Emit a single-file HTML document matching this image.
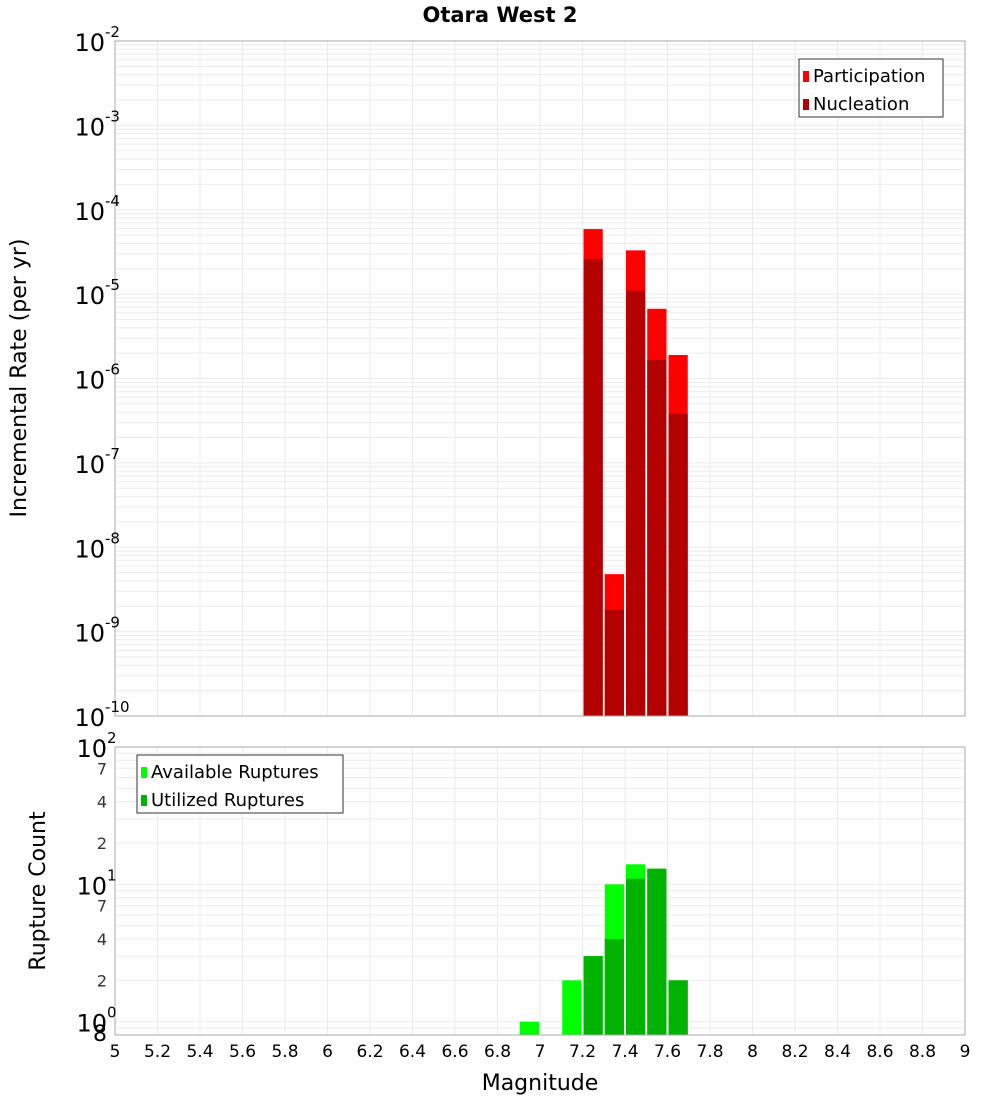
<!DOCTYPE html>
<html><head><meta charset="utf-8"><style>
body{margin:0;background:#fff;font-family:"Liberation Sans","DejaVu Sans",sans-serif}
svg text{font-family:"DejaVu Sans","Liberation Sans",sans-serif}
</style></head><body>
<svg id="c" width="1000" height="1100" xmlns="http://www.w3.org/2000/svg"></svg>
<script>
const mags=[7.25,7.35,7.45,7.55,7.65];
const participation=[5.9e-5,4.8e-9,3.3e-5,6.7e-6,1.9e-6];
const nucleation=[2.6e-5,1.8e-9,1.1e-5,1.66e-6,3.8e-7];
const countMags=[6.95,7.15,7.25,7.35,7.45,7.55,7.65];
const available=[1,2,3,10,14,13,2];
const utilized=[0,0,3,4,11,13,2];
const xTicks=[5,5.2,5.4,5.6,5.8,6,6.2,6.4,6.6,6.8,7,7.2,7.4,7.6,7.8,8,8.2,8.4,8.6,8.8,9];
const topExps=[-2,-3,-4,-5,-6,-7,-8,-9,-10];

const svg=document.getElementById('c');
const NS='http://www.w3.org/2000/svg';
function el(t,a,p){const e=document.createElementNS(NS,t);for(const k in a)e.setAttribute(k,a[k]);(p||svg).appendChild(e);return e;}
const L=115,R=965;
const x=v=>L+(v-5)/4*(R-L);
const T1=41,B1=716;
const y1=v=>T1+(-2-Math.log10(v))/8*(B1-T1);
const T2=747,B2=1035,lmin=Math.log10(0.8),lmax=2;
const y2=v=>T2+(lmax-Math.log10(v))/(lmax-lmin)*(B2-T2);

// title
let t=el('text',{x:500,y:22,'text-anchor':'middle','font-size':21,'font-weight':'bold'});
t.textContent='Otara West 2';



// grids top
const g1=el('g',{});


for(let e=-10;e<-2;e++)for(let m=1;m<10;m++){const yy=y1(m*Math.pow(10,e));el('line',{x1:L,x2:R,y1:yy,y2:yy,stroke:'#ebebeb','stroke-width':1},g1);}
xTicks.forEach(v=>{el('line',{x1:x(v),x2:x(v),y1:T1,y2:B1,stroke:'#ebebeb'},g1);el('line',{x1:x(v),x2:x(v),y1:T2,y2:B2,stroke:'#ebebeb'},g1);});
for(let e=-1;e<2;e++)for(let m=1;m<10;m++){const v=m*Math.pow(10,e);if(v<0.8||v>100)continue;const yy=y2(v);el('line',{x1:L,x2:R,y1:yy,y2:yy,stroke:'#ebebeb'},g1);}

// top bars
mags.forEach((m,i)=>{
 const x0=x(m-0.05)+1,w=x(m+0.05)-x(m-0.05)-2;
 let r=el('rect',{x:x0,y:y1(participation[i]),width:w,height:B1-y1(participation[i]),fill:'#ff0000'});
 
 
 r=el('rect',{x:x0,y:y1(nucleation[i]),width:w,height:B1-y1(nucleation[i]),fill:'#b30000'});
 
 
});
// bottom bars
countMags.forEach((m,i)=>{
 const x0=x(m-0.05)+1,w=x(m+0.05)-x(m-0.05)-2;
 let r=el('rect',{x:x0,y:y2(available[i]),width:w,height:B2-y2(available[i]),fill:'#00ff00'});
 
 
 if(utilized[i]>0){r=el('rect',{x:x0,y:y2(utilized[i]),width:w,height:B2-y2(utilized[i]),fill:'#00b300'});
 
 }
});
el('rect',{x:L,y:T1,width:R-L,height:B1-T1,fill:'none',stroke:'#aaa'});
el('rect',{x:L,y:T2,width:R-L,height:B2-T2,fill:'none',stroke:'#aaa'});

// top y labels
topExps.forEach(e=>{
 const yy=y1(Math.pow(10,e));
 const tt=el('text',{x:105,y:yy+10,'text-anchor':'end','font-size':24});
 tt.textContent='10';
 
 
 const s=el('text',{x:105,y:yy-4,'text-anchor':'start','font-size':15});
 s.textContent=String(e);
 
 
});
// bottom y labels
[[100,'2'],[10,'1'],[1,'0']].forEach(([v,e])=>{
 const yy=y2(v);
 const tt=el('text',{x:107,y:yy+10,'text-anchor':'end','font-size':24});
 tt.textContent='10';
 
 
 const s=el('text',{x:107,y:yy-4,'font-size':15});
 s.textContent=e;
 
 
});
[[70,'7'],[40,'4'],[20,'2'],[7,'7'],[4,'4'],[2,'2'],[0.8,'8']].forEach(([v,s])=>{
 const tt=el('text',{x:107,y:y2(v)+6,'text-anchor':'end','font-size':v==0.8?22:16,fill:v==0.8?'#000':'#333'});
 tt.textContent=s;
 
 
});
// x labels
xTicks.forEach(v=>{
 const tt=el('text',{x:x(v),y:1057,'text-anchor':'middle','font-size':17});
 tt.textContent=String(v);
 
 
});
t=el('text',{x:540,y:1090,'text-anchor':'middle','font-size':22});
t.textContent='Magnitude';


t=el('text',{x:0,y:0,'text-anchor':'middle','font-size':22,transform:'translate(26,378) rotate(-90)'});
t.textContent='Incremental Rate (per yr)';


t=el('text',{x:0,y:0,'text-anchor':'middle','font-size':22,transform:'translate(45,891) rotate(-90)'});
t.textContent='Rupture Count';



// legends
function legend(x0,y0,w,items,name){
 const g=el('g',{});
 
 
 el('rect',{x:x0,y:y0,width:w,height:58,fill:'#fff',stroke:'#333'},g);
 items.forEach((it,i)=>{
  el('rect',{x:x0+4,y:y0+12+i*28,width:6,height:11,fill:it[1]},g);
  const tt=el('text',{x:x0+14,y:y0+23+i*28,'font-size':18},g);
  tt.textContent=it[0];
 });
}
legend(799,59,144,[['Participation','#ff0000'],['Nucleation','#b30000']],'rate-legend');
legend(137,755,206,[['Available Ruptures','#00ff00'],['Utilized Ruptures','#00b300']],'count-legend');
</script>
</body></html>
